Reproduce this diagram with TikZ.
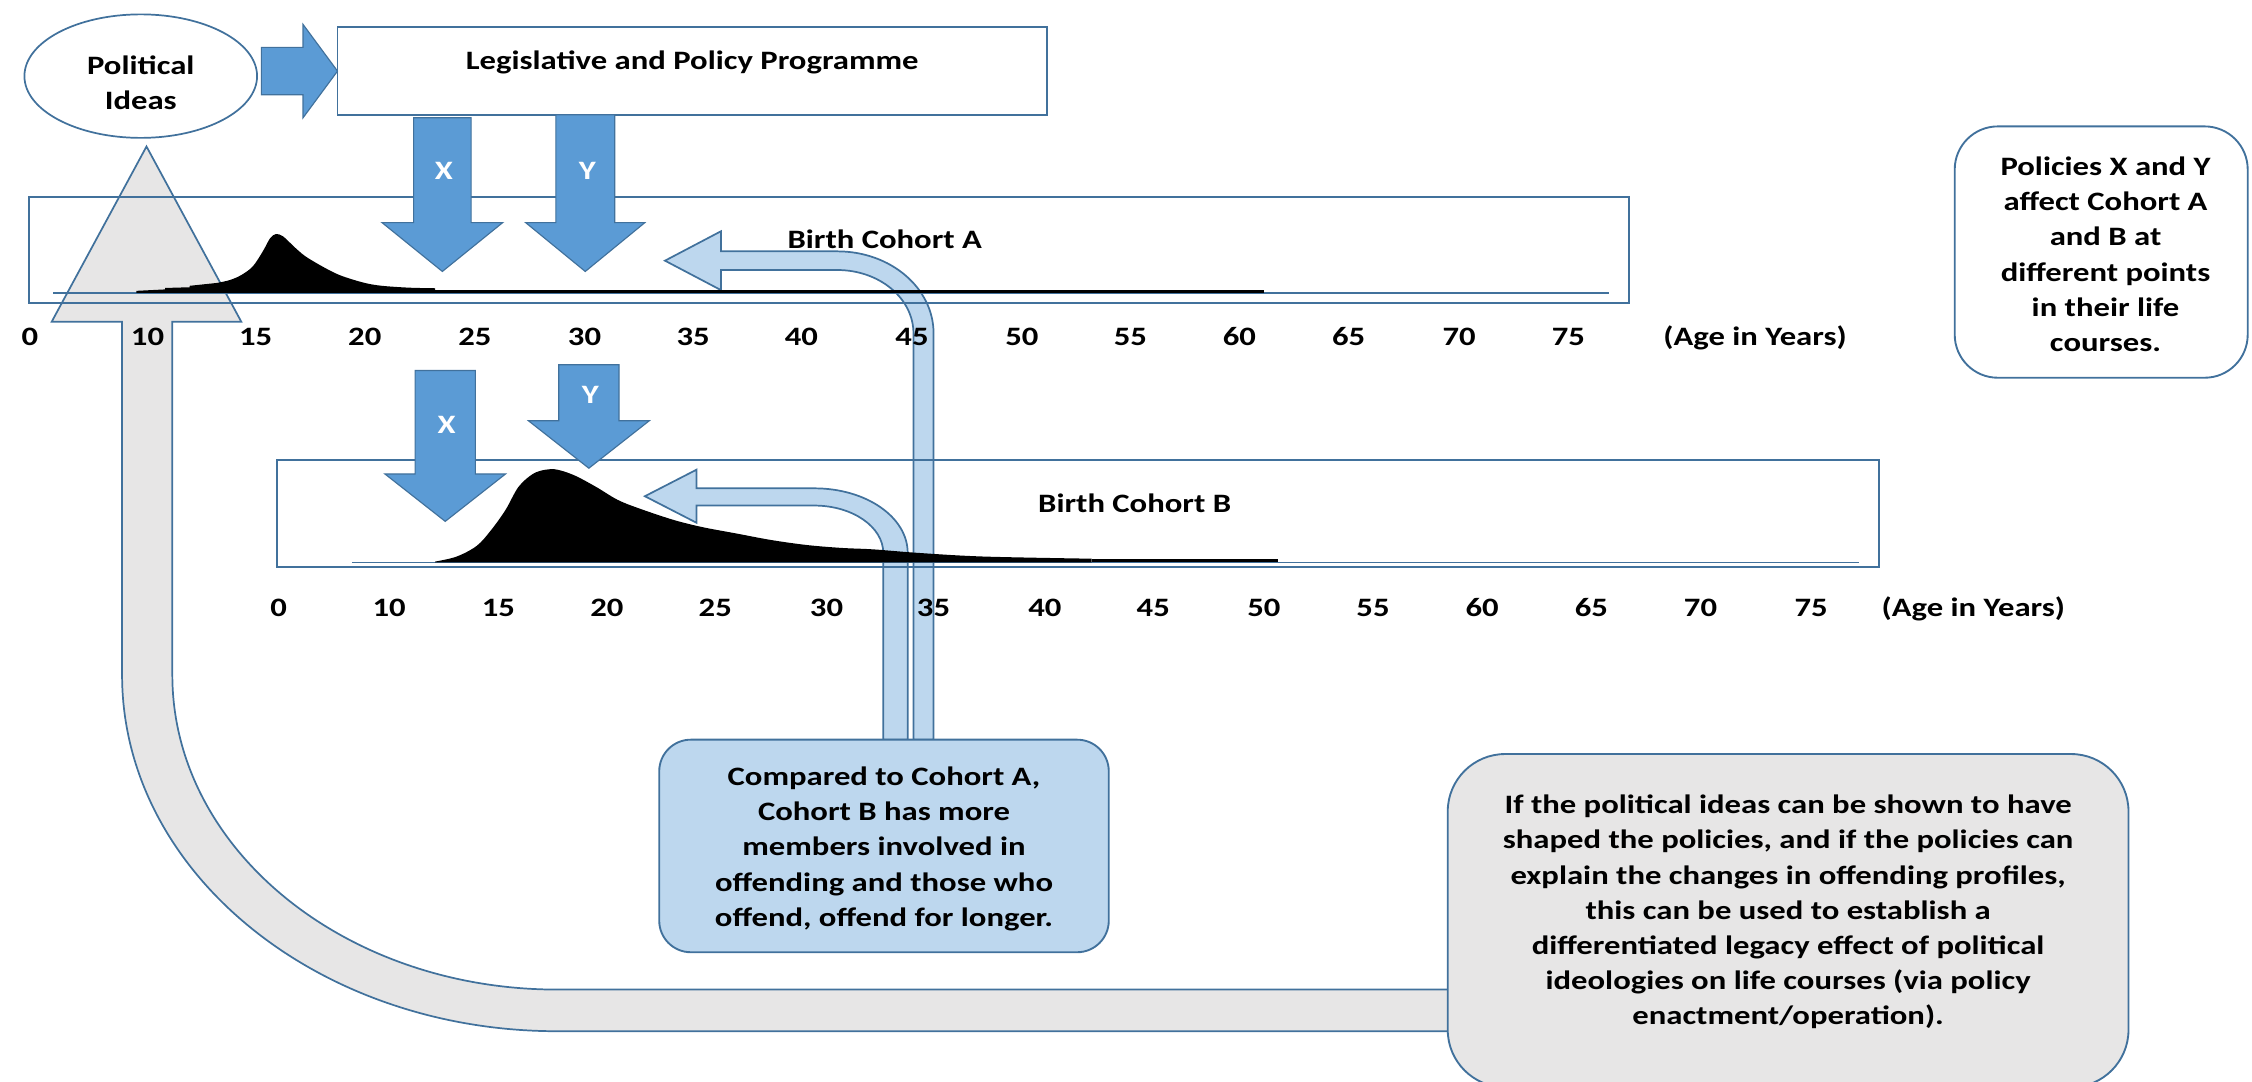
\documentclass[tikz,border=0pt]{standalone}
\usepackage{fontspec}
\setmainfont{Carlito}[FakeStretch=1.23]
\usetikzlibrary{shapes.geometric}
\definecolor{edge}{HTML}{41719C}
\definecolor{bluefill}{HTML}{5B9BD5}
\definecolor{lightfill}{HTML}{BDD7EE}
\definecolor{greyfill}{HTML}{E7E6E6}

\begin{document}
\begin{tikzpicture}[x=1pt,y=-1pt,
  every node/.style={font=\fontsize{18.5}{24.5}\selectfont\bfseries, inner sep=0pt},
  frame/.style={draw=edge, line width=1.3pt},
  softbox/.style={draw=edge, line width=1.3pt, rounded corners=#1},
  bigarrow/.style={fill=bluefill, draw=edge, line width=0.8pt},
  callout/.style={fill=lightfill, draw=edge, line width=1.2pt},
  loop/.style={fill=greyfill, draw=edge, line width=1.2pt},
  axis/.style={draw=edge, line width=1pt},
  agelabel/.style={anchor=base},
  onarrow/.style={anchor=base, text=white},
  note/.style={align=center}
]
\useasboundingbox (0,0) rectangle (1568,753);

% grey feedback arrow: from the conclusion box back up to the political ideas
\draw[loop] (1008,689) -- (388,689)
  .. controls (240,689) and (120,591) .. (120,470)
  -- (120,224) -- (168,224) -- (102,102) -- (36,224) -- (85,224)
  -- (85,470) .. controls (85,607) and (221,718) .. (388,718)
  -- (1008,718);

% light-blue callout arrows pointing at the two offending curves
\draw[callout] (632,515) -- (632,385) .. controls (632,360) and (603,340) .. (567,340)
  -- (485,340) -- (485,327) -- (449,345.5) -- (485,364) -- (485,352) -- (567,352)
  .. controls (593.5,352) and (615,366.8) .. (615,385) -- (615,515) -- cycle;
\draw[callout] (650,515) -- (650,232) .. controls (650,200.5) and (620,175) .. (583,175)
  -- (502,175) -- (502,161) -- (463,181.5) -- (502,202) -- (502,188) -- (583,188)
  .. controls (612.3,188) and (636,207.7) .. (636,232) -- (636,515) -- cycle;

% political ideas and the programme
\node[ellipse, draw=edge, line width=1.2pt, fill=white, minimum width=162pt, minimum height=86pt] (ideas) at (98,53) {};
\node[note] (ideastext) at (98,57.5) {Political\\Ideas};
\node[frame, fill=white, minimum width=494pt, minimum height=61pt] (prog) at (482,49.5) {};
\node[anchor=base] (progtext) at (482,48.7) {Legislative and Policy Programme};
\draw[bigarrow] (182,33) -- (211,33) -- (211,17) -- (235,49.5) -- (211,82) -- (211,66) -- (182,66) -- cycle;

% cohort frames and age axes
\node[frame, minimum width=1114pt, minimum height=74pt] (cohA) at (577,174) {};
\node[frame, minimum width=1115pt, minimum height=75pt] (cohB) at (750.5,357.5) {};
\draw[axis] (37,204) -- (1120,204);
\draw[axis] (245,391.5) -- (1294,391.5);
\node[anchor=base] (cohAtext) at (616,173) {Birth Cohort A};
\node[anchor=base] (cohBtext) at (790,357) {Birth Cohort B};

% offending profile, cohort A
\fill[black] (95,204) -- (95,202.5) -- (115,201.5) -- (115,200.5) -- (132,200) -- (132,199)
  -- plot[smooth, tension=0.55] coordinates {(151,197) (160,195) (168,191.5) (176,185.5) (183,175)
     (188,166) (192,163) (197,164.5) (205,172) (212,178) (220,183) (230,188.5) (239,192.5)
     (254,197) (266,199) (285,200.3) (303,200.7)}
  -- (303,202) -- (466,202) -- (466,204) -- cycle;
\draw[black, line width=2.2pt] (466,203.2) -- (880,203.2);

% offending profile, cohort B
\fill[black] (303,391.5)
  -- plot[smooth, tension=0.55] coordinates {(303,391) (318,387.5) (332,380) (342,369) (352,355)
     (361,339) (371,330) (380,327) (388,327) (400,331) (415,339) (430,348) (445,354) (469,362)
     (489,367) (513,371.5) (537,376) (562,379.5) (586,381.5) (608,382.5) (640,385) (685,387.5)
     (760,389)}
  -- (760,391.5) -- cycle;
\draw[black, line width=2.2pt] (760,390.3) -- (890,390.3);

% policy arrows X and Y
\draw[bigarrow] (288,82) -- (328,82) -- (328,155) -- (350,155) -- (308,189) -- (266,155) -- (288,155) -- cycle;
\draw[bigarrow] (387,80) -- (428,80) -- (428,155) -- (449,155) -- (407.5,189) -- (366,155) -- (387,155) -- cycle;
\draw[bigarrow] (289,258) -- (331,258) -- (331,330) -- (352,330) -- (310,363) -- (268,330) -- (289,330) -- cycle;
\draw[bigarrow] (389,254) -- (431,254) -- (431,293) -- (452,293) -- (410,326) -- (368,293) -- (389,293) -- cycle;
\node[onarrow] (xA) at (309,125.3) {X};
\node[onarrow] (yA) at (409,125.3) {Y};
\node[onarrow] (xB) at (311,301.7) {X};
\node[onarrow] (yB) at (411,280.8) {Y};

% age labels
\foreach \a/\px [count=\i] in {0/20.9,10/102.7,15/178,20/254,25/330.7,30/407,35/482.6,40/558,45/635,50/711.5,55/787,60/863,65/939,70/1016,75/1092}
  \node[agelabel] (ageA\i) at (\px,240.3) {\a};
\node[agelabel] (ageAunit) at (1222,240.3) {(Age in Years)};
\foreach \a/\px [count=\i] in {0/194,10/271,15/347,20/422.6,25/498,30/575.5,35/650,40/727.5,45/803,50/880,55/956,60/1032,65/1108,70/1184,75/1261}
  \node[agelabel] (ageB\i) at (\px,429.5) {\a};
\node[agelabel] (ageBunit) at (1374,429.5) {(Age in Years)};

% notes
\node[softbox=30pt, fill=white, minimum width=204pt, minimum height=175pt] (policies) at (1463,175.5) {};
\node[note] (policiestext) at (1466,177) {Policies X and Y\\affect Cohort A\\and B at\\different points\\in their life\\courses.};

\node[softbox=22pt, fill=lightfill, minimum width=313pt, minimum height=148pt] (compare) at (615.5,589) {};
\node[note] (comparetext) at (615.5,591) {Compared to Cohort A,\\Cohort B has more\\members involved in\\offending and those who\\offend, offend for longer.};

\node[softbox=40pt, fill=greyfill, minimum width=474pt, minimum height=232pt] (legacy) at (1245,641) {};
\node[note] (legacytext) at (1245,635) {If the political ideas can be shown to have\\shaped the policies, and if the policies can\\explain the changes in offending profiles,\\this can be used to establish a\\differentiated legacy effect of political\\ideologies on life courses (via policy\\enactment/operation).};
\end{tikzpicture}
\end{document}
